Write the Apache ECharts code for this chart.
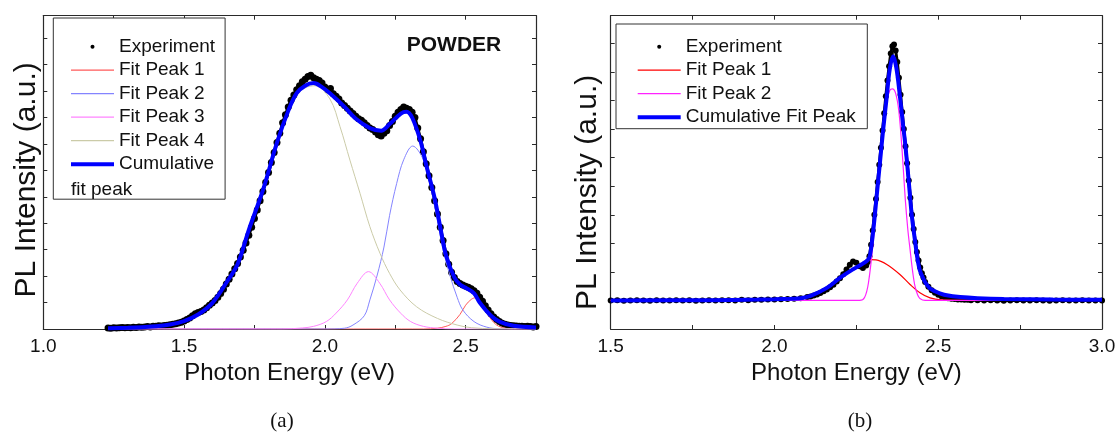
<!DOCTYPE html>
<html><head><meta charset="utf-8">
<script src="https://cdn.jsdelivr.net/npm/echarts@6/dist/echarts.min.js"></script>
<style>html,body{margin:0;padding:0;background:#fff;}#c{width:1119px;height:434px;}</style>
</head><body><div id="c"></div>
<script>
// ---------- Panel (a): POWDER ----------
const tickLabelsA = ['1.0', '1.5', '2.0', '2.5'];
const powderExperiment = [
[1.23,0.04],[1.24,0.03],[1.25,0.05],[1.26,0.04],[1.27,0.05],[1.28,0.06],[1.29,0.05],
[1.30,0.06],[1.31,0.05],[1.32,0.07],[1.33,0.06],[1.34,0.08],[1.35,0.07],[1.36,0.08],[1.37,0.09],[1.38,0.08],[1.39,0.10],
[1.40,0.10],[1.41,0.12],[1.42,0.11],[1.43,0.13],[1.44,0.14],[1.45,0.16],[1.46,0.18],[1.47,0.20],[1.48,0.23],[1.49,0.26],
[1.50,0.30],[1.51,0.36],[1.52,0.42],[1.53,0.50],[1.54,0.58],[1.55,0.62],[1.56,0.66],[1.57,0.72],[1.58,0.80],[1.59,0.90],
[1.60,0.98],[1.61,1.08],[1.62,1.20],[1.63,1.34],[1.64,1.50],[1.65,1.70],[1.66,1.88],[1.67,2.08],[1.68,2.28],[1.69,2.48],
[1.70,2.72],[1.71,2.98],[1.72,3.25],[1.73,3.55],[1.74,3.85],[1.75,4.18],[1.76,4.50],[1.77,4.85],[1.78,5.20],[1.79,5.55],
[1.80,5.92],[1.81,6.30],[1.82,6.68],[1.83,7.05],[1.84,7.40],[1.85,7.80],[1.86,8.10],[1.87,8.40],[1.88,8.65],[1.89,8.85],
[1.90,9.05],[1.91,9.20],[1.92,9.35],[1.93,9.45],[1.94,9.55],[1.95,9.60],[1.96,9.50],[1.97,9.45],[1.98,9.40],[1.99,9.30],
[2.00,9.15],[2.01,9.05],[2.02,9.10],[2.03,8.90],[2.04,8.80],[2.05,8.70],[2.06,8.55],[2.07,8.45],[2.08,8.35],[2.09,8.25],
[2.10,8.15],[2.11,8.05],[2.12,7.95],[2.13,7.90],[2.14,7.80],[2.15,7.70],[2.16,7.60],[2.17,7.55],[2.18,7.45],[2.19,7.35],
[2.20,7.30],[2.21,7.40],[2.22,7.50],[2.23,7.70],[2.24,7.85],[2.25,8.05],[2.26,8.20],[2.27,8.30],[2.28,8.40],[2.29,8.35],
[2.30,8.30],[2.31,8.20],[2.32,8.00],[2.33,7.60],[2.34,7.20],[2.35,6.70],[2.36,6.25],[2.37,5.80],[2.38,5.35],[2.39,4.85],
[2.40,4.35],[2.41,3.85],[2.42,3.35],[2.43,2.85],[2.44,2.45],[2.45,2.15],[2.46,1.95],[2.47,1.80],[2.48,1.72],[2.49,1.66],
[2.50,1.62],[2.51,1.58],[2.52,1.52],[2.53,1.45],[2.54,1.35],[2.55,1.20],[2.56,1.05],[2.57,0.88],[2.58,0.72],[2.59,0.58],
[2.60,0.45],[2.61,0.36],[2.62,0.28],[2.63,0.22],[2.64,0.18],[2.65,0.15],[2.66,0.13],[2.67,0.12],[2.68,0.11],[2.69,0.10],
[2.70,0.10],[2.71,0.09],[2.72,0.10],[2.73,0.09],[2.74,0.08],[2.75,0.09]
];
const powderPeak1 = [[1.23,0],[2.35,0],[2.40,0.03],[2.43,0.10],[2.45,0.20],[2.48,0.55],[2.50,0.90],[2.52,1.12],[2.535,1.18],[2.55,1.05],[2.565,0.78],[2.59,0.38],[2.61,0.15],[2.64,0.03],[2.68,0],[2.75,0]];
const powderPeak2 = [[1.23,0],[2.0,0],[2.07,0.03],[2.10,0.15],[2.14,0.5],[2.16,1.1],[2.185,2.0],[2.21,3.1],[2.23,4.3],[2.255,5.5],[2.28,6.4],[2.312,6.92],[2.35,6.4],[2.375,5.4],[2.40,4.1],[2.42,3.0],[2.445,2.0],[2.47,1.2],[2.49,0.72],[2.53,0.28],[2.575,0.07],[2.62,0.01],[2.75,0]];
const powderPeak3 = [[1.23,0],[1.85,0],[1.92,0.04],[1.96,0.10],[2.005,0.28],[2.04,0.6],[2.08,1.1],[2.115,1.73],[2.155,2.17],[2.195,1.73],[2.23,1.1],[2.27,0.59],[2.305,0.28],[2.35,0.10],[2.40,0.03],[2.46,0],[2.75,0]];
const powderPeak4 = [[1.23,0.03],[1.30,0.05],[1.35,0.07],[1.40,0.10],[1.45,0.17],[1.50,0.30],[1.55,0.52],[1.60,0.95],[1.65,1.72],[1.69,2.42],[1.73,3.72],[1.78,5.22],[1.83,7.0],[1.87,8.2],[1.90,8.85],[1.93,9.12],[1.965,9.2],[2.018,8.7],[2.054,7.65],[2.089,6.39],[2.125,5.13],[2.16,3.87],[2.196,2.86],[2.23,2.1],[2.267,1.48],[2.326,0.84],[2.40,0.4],[2.47,0.15],[2.52,0.05],[2.60,0.01],[2.75,0]];
const powderCumulative = [[1.23,0.03],[1.30,0.05],[1.35,0.07],[1.40,0.10],[1.45,0.17],[1.50,0.30],[1.55,0.55],[1.60,0.98],[1.65,1.75],[1.69,2.45],[1.73,3.75],[1.78,5.25],[1.83,7.05],[1.87,8.25],[1.90,8.92],[1.93,9.2],[1.96,9.3],[1.99,9.15],[2.02,8.9],[2.07,8.4],[2.11,7.95],[2.16,7.6],[2.20,7.5],[2.23,7.75],[2.27,8.15],[2.29,8.22],[2.31,8.0],[2.34,7.1],[2.36,6.2],[2.39,4.95],[2.41,3.85],[2.43,2.8],[2.46,1.95],[2.48,1.68],[2.50,1.56],[2.53,1.35],[2.55,1.0],[2.59,0.5],[2.62,0.28],[2.67,0.12],[2.75,0.06]];

// ---------- Panel (b) ----------
const tickLabelsB = ['1.5', '2.0', '2.5', '3.0'];
const filmExperiment = [
[1.50,0.0],[1.52,0.01],[1.54,-0.01],[1.56,0.0],[1.58,0.01],[1.60,0.0],[1.62,-0.01],[1.64,0.01],[1.66,0.0],[1.68,0.0],
[1.70,0.01],[1.72,0.0],[1.74,0.01],[1.76,-0.01],[1.78,0.0],[1.80,0.01],[1.82,0.0],[1.84,0.01],[1.86,0.01],[1.88,0.0],
[1.90,0.02],[1.92,0.01],[1.94,0.02],[1.96,0.02],[1.98,0.03],[2.00,0.03],[2.02,0.04],[2.04,0.05],[2.06,0.06],[2.08,0.08],[2.10,0.12],
[2.11,0.14],[2.12,0.17],[2.13,0.21],[2.14,0.26],[2.15,0.32],[2.16,0.38],[2.17,0.46],[2.18,0.55],[2.19,0.66],[2.20,0.78],
[2.21,0.92],[2.22,1.08],[2.23,1.25],[2.24,1.36],[2.25,1.32],[2.26,1.20],[2.27,1.14],[2.28,1.22],
[2.285,1.35],[2.29,1.55],[2.295,1.95],[2.30,2.45],[2.305,3.0],[2.31,3.55],[2.315,4.15],[2.32,4.75],[2.325,5.35],[2.33,5.95],
[2.335,6.55],[2.34,7.15],[2.345,7.7],[2.35,8.2],[2.355,8.65],[2.36,8.9],[2.365,8.96],[2.37,8.75],[2.375,8.35],[2.38,7.8],
[2.385,7.2],[2.39,6.6],[2.395,6.0],[2.40,5.4],[2.405,4.8],[2.41,4.2],[2.415,3.6],[2.42,3.0],[2.425,2.5],[2.43,2.05],
[2.435,1.7],[2.44,1.4],[2.445,1.15],[2.45,0.95],[2.455,0.8],[2.46,0.65],
[2.47,0.48],[2.48,0.36],[2.49,0.27],[2.50,0.20],[2.51,0.15],[2.52,0.11],[2.53,0.08],[2.54,0.06],[2.55,0.05],[2.56,0.03],
[2.57,0.03],[2.58,0.02],[2.59,0.02],[2.60,0.01],
[2.62,0.01],[2.64,0.0],[2.66,0.01],[2.68,0.0],[2.70,-0.01],[2.72,0.0],[2.74,0.01],[2.76,0.0],[2.78,0.0],[2.80,0.01],
[2.82,0.0],[2.84,-0.01],[2.86,0.0],[2.88,0.01],[2.90,0.0],[2.92,0.0],[2.94,0.01],[2.96,0.0],[2.98,0.0],[3.00,0.0]
];
const filmPeak1 = [[1.5,0],[1.8,0.01],[1.95,0.03],[2.0,0.04],[2.05,0.06],[2.08,0.08],[2.11,0.16],[2.16,0.44],[2.2,0.79],[2.24,1.1],[2.27,1.3],[2.292,1.43],[2.31,1.42],[2.343,1.26],[2.383,0.91],[2.414,0.56],[2.444,0.27],[2.475,0.09],[2.51,0.02],[2.6,0],[3.0,0]];
const filmPeak2 = [[1.5,0],[2.26,0],[2.275,0.1],[2.287,0.62],[2.302,2.13],[2.312,3.53],[2.322,4.9],[2.332,6.1],[2.342,6.95],[2.352,7.35],[2.36,7.41],[2.37,7.25],[2.38,6.6],[2.39,5.2],[2.399,3.6],[2.407,2.5],[2.414,1.78],[2.422,1.0],[2.429,0.5],[2.437,0.2],[2.444,0.07],[2.46,0],[3.0,0]];
const filmCumulative = [[1.5,0],[1.8,0.01],[1.95,0.03],[2.0,0.04],[2.05,0.06],[2.08,0.08],[2.11,0.16],[2.16,0.44],[2.2,0.79],[2.24,1.09],[2.271,1.3],[2.285,1.42],[2.292,1.6],[2.302,2.49],[2.312,3.65],[2.322,4.82],[2.332,5.99],[2.343,7.15],[2.352,8.1],[2.362,8.55],[2.372,8.15],[2.383,7.15],[2.392,6.2],[2.399,5.5],[2.409,4.3],[2.419,3.0],[2.429,2.1],[2.436,1.5],[2.444,1.05],[2.455,0.75],[2.465,0.55],[2.475,0.42],[2.49,0.32],[2.505,0.25],[2.526,0.18],[2.567,0.12],[2.62,0.08],[2.7,0.05],[2.85,0.03],[3.0,0.02]];

// ---------- chart ----------
const FONT = '"Liberation Sans", Arial, sans-serif';
const INK = '#111';
const FRAME = '#2a2a2a';
const DOT = 'path://M0,0M43,14M19.5,7a2,2 0 1,0 4,0a2,2 0 1,0 -4,0z';
const THIN = 'path://M0,0M43,14M0,6.4L43,6.4L43,7.6L0,7.6Z';
const THICK = 'path://M0,0M43,14M0,5L43,5L43,9L0,9Z';

function labelFmt(list) {
  return v => { const s = v.toFixed(1); return (list.indexOf(s) >= 0 && Math.abs(v*2 - Math.round(v*2)) < 1e-6) ? s : ''; };
}
function xPair(gi, min, max, labels) {
  const common = {
    type: 'value', gridIndex: gi, min: min, max: max, interval: 0.25,
    axisLine: { show: true, onZero: false, lineStyle: { color: FRAME, width: 1.2 } },
    axisTick: { show: true, inside: true, length: 4, lineStyle: { color: FRAME, width: 1 } },
    splitLine: { show: false }
  };
  return [
    Object.assign({}, common, {
      position: 'bottom',
      axisLabel: { formatter: labelFmt(labels), fontSize: 19, color: INK, fontFamily: FONT, margin: 8 },
      name: 'Photon Energy (eV)', nameLocation: 'middle', nameGap: 29,
      nameTextStyle: { fontSize: 24, color: INK, fontFamily: FONT }
    }),
    Object.assign({}, common, { position: 'top', axisLabel: { show: false } })
  ];
}
function yPair(gi, min, max, gap, pad) {
  const common = {
    type: 'value', gridIndex: gi, min: min, max: max, interval: 1,
    axisLine: { show: true, onZero: false, lineStyle: { color: FRAME, width: 1.2 } },
    axisTick: { show: true, inside: true, length: 4, lineStyle: { color: FRAME, width: 1 } },
    axisLabel: { show: false }, splitLine: { show: false }
  };
  return [
    Object.assign({}, common, {
      position: 'left', name: 'PL Intensity (a.u.)', nameLocation: 'middle', nameGap: gap,
      nameTextStyle: { fontSize: 30, color: INK, fontFamily: FONT, padding: pad }
    }),
    Object.assign({}, common, { position: 'right' })
  ];
}
function fitLine(name, data, color, width, xi, yi) {
  return { type: 'line', name: name, data: data, xAxisIndex: xi, yAxisIndex: yi, symbol: 'none',
    smooth: 0.35, lineStyle: { color: color, width: width }, itemStyle: { color: color }, z: 3 };
}
function expLine(name, data, size, xi, yi) {
  return { type: 'line', name: name, data: data, xAxisIndex: xi, yAxisIndex: yi,
    symbol: 'circle', symbolSize: size, showSymbol: true, showAllSymbol: true,
    lineStyle: { color: '#000', width: 3 }, itemStyle: { color: '#000' }, z: 2 };
}

const xA = xPair(0, 1.0, 2.75, tickLabelsA);
const xB = xPair(1, 1.5, 3.0, tickLabelsB);
const yA = yPair(0, 0, 11.85, 1.5, [0, 15, 0, 0]);
const yB = yPair(1, -1, 9.97, 7.5, [0, 40, 0, 0]);

const option = {
  animation: false,
  backgroundColor: '#fff',
  grid: [
    { left: 43.3, top: 15.7, width: 492.7, height: 313.3 },
    { left: 610.7, top: 15.7, width: 491.3, height: 313.3 }
  ],
  xAxis: [xA[0], xA[1], xB[0], xB[1]],
  yAxis: [yA[0], yA[1], yB[0], yB[1]],
  legend: [
    {
      orient: 'vertical', left: 53.3, top: 18, padding: [18.7, 10, 25, 17.7],
      borderColor: '#333', borderWidth: 1, backgroundColor: '#fff',
      itemWidth: 43, itemHeight: 14, itemGap: 3.5, itemTextGap: 5,
      selectedMode: false,
      textStyle: { fontSize: 19, lineHeight: 20, color: INK, fontFamily: FONT },
      formatter: n => n === 'Cumulative fit peak' ? 'Cumulative' : n,
      data: [{ name: 'Experiment', icon: DOT }, { name: 'Fit Peak 1', icon: THIN }, { name: 'Fit Peak 2', icon: THIN },
             { name: 'Fit Peak 3', icon: THIN }, { name: 'Fit Peak 4', icon: THIN }, { name: 'Cumulative fit peak', icon: THICK }]
    },
    {
      orient: 'vertical', left: 616, top: 24, padding: [12.7, 11.6, 1.5, 21.7],
      borderColor: '#333', borderWidth: 1, backgroundColor: '#fff',
      itemWidth: 43, itemHeight: 14, itemGap: 3.5, itemTextGap: 5.7,
      selectedMode: false,
      textStyle: { fontSize: 19, lineHeight: 20, color: INK, fontFamily: FONT },
      formatter: n => n.replace(/^b:/, ''),
      data: [{ name: 'b:Experiment', icon: DOT }, { name: 'b:Fit Peak 1', icon: THIN }, { name: 'b:Fit Peak 2', icon: THIN },
             { name: 'b:Cumulative Fit Peak', icon: THICK }]
    }
  ],
  series: [
    expLine('Experiment', powderExperiment, 7, 0, 0),
    fitLine('Fit Peak 1', powderPeak1, '#ff5a5a', 1, 0, 0),
    fitLine('Fit Peak 2', powderPeak2, '#8484ff', 1, 0, 0),
    fitLine('Fit Peak 3', powderPeak3, '#ff84ff', 1, 0, 0),
    fitLine('Fit Peak 4', powderPeak4, '#cbcba8', 1, 0, 0),
    Object.assign(fitLine('Cumulative fit peak', powderCumulative, '#0000ff', 4, 0, 0), { z: 4 }),
    expLine('b:Experiment', filmExperiment, 6, 2, 2),
    fitLine('b:Fit Peak 1', filmPeak1, '#ff0000', 1.2, 2, 2),
    fitLine('b:Fit Peak 2', filmPeak2, '#ff22ff', 1.2, 2, 2),
    Object.assign(fitLine('b:Cumulative Fit Peak', filmCumulative, '#0000ff', 4, 2, 2), { z: 4 })
  ],
  graphic: [
    { type: 'text', x: 454, y: 45, style: { text: 'POWDER', font: 'bold 21px "Liberation Sans", Arial, sans-serif', fill: INK, align: 'center', verticalAlign: 'middle' } },
    { type: 'text', x: 71, y: 189.3, z: 100, style: { text: 'fit peak', font: '19px "Liberation Sans", Arial, sans-serif', fill: INK, align: 'left', verticalAlign: 'middle' } },
    { type: 'text', x: 282, y: 421.7, style: { text: '(a)', font: '21px "Liberation Serif", "Times New Roman", serif', fill: INK, align: 'center', verticalAlign: 'middle' } },
    { type: 'text', x: 860, y: 421.7, style: { text: '(b)', font: '21px "Liberation Serif", "Times New Roman", serif', fill: INK, align: 'center', verticalAlign: 'middle' } }
  ]
};
const chart = echarts.init(document.getElementById('c'), null, { renderer: 'canvas' });
chart.setOption(option);
</script>
</body></html>
